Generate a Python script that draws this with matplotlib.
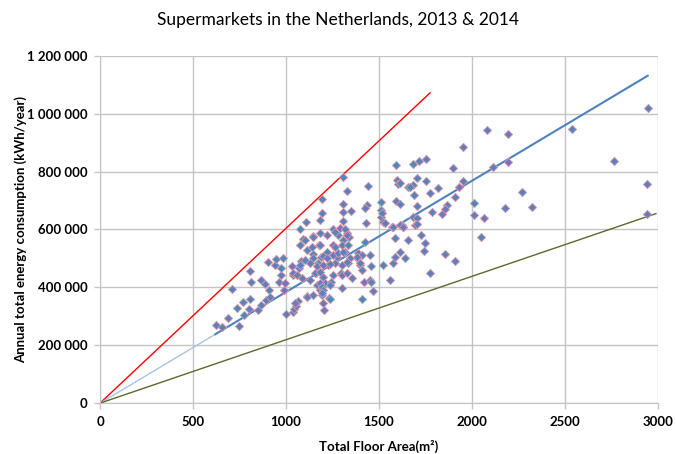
import matplotlib
matplotlib.use("Agg")
import matplotlib.pyplot as plt
from matplotlib.ticker import FuncFormatter, MultipleLocator

title = "Supermarkets in the Netherlands, 2013 & 2014"
xlabel = "Total Floor Area(m²)"
ylabel = "Annual total energy consumption (kWh/year)"

area = [
    624, 654, 690, 711, 737, 747, 769, 774, 801, 805, 808, 810, 848, 864, 866, 887, 891, 905, 909, 914,
    943, 946, 961, 971, 975, 989, 998, 1032, 1036, 1039, 1043, 1052, 1066, 1071, 1075, 1081, 1104, 1093,
    1111, 1113, 1129, 1143, 1147, 1161, 1165, 1170, 1179, 1183, 1190, 1195, 1200, 1204, 1210, 1219, 1222,
    1228, 1233, 1240, 1254, 1263, 1272, 1281, 1294, 1299, 1308, 1317, 1326, 1335, 1339, 1380, 1389, 1401,
    1407, 1410, 1410, 1419, 1425, 1452, 1455, 1466, 1520, 1559, 1577, 1586,
    1308, 1326, 1195, 1308, 1439, 1434, 1426, 1308, 1195, 1183, 1308, 1109, 1075, 1430, 1511, 1511, 1591,
    1595, 1604, 1591, 1613, 1658, 1511, 1523, 1568, 1622, 1254, 1183,
    2948, 2084, 2195, 2537, 1955, 1681, 1717, 1753, 1899, 2114, 2195, 2767, 1613, 1684, 1703, 1753, 1690,
    1774, 1816, 1932, 1955, 1910, 1703, 1869, 2012, 2176, 2272, 2324, 2944, 2944, 1783, 1837, 1858, 2012,
    2066, 2047, 1627, 1681, 1692, 1729, 1659, 1747, 1745, 1613, 1640, 1857, 1908, 1776,
    1138, 1263, 1299, 1335, 1147, 1200, 1219, 1254, 1281, 1308, 1344, 1380, 1075, 1129, 1165, 1200, 1237,
    1299, 1326, 1398, 1452, 995, 1039, 1057, 1084, 1156, 1183, 1254, 1299, 1326, 1353, 1183, 1192, 1200,
    1192, 1237, 1460, 1111, 1147, 1237, 1200, 1048,
    1514, 1532, 1577, 1613, 1631, 1703, 1703, 1586, 1667, 1348, 1147, 1102, 1183, 1265, 1290, 1320, 1330,
    985,
]
energy = [
    270800, 263900, 292900, 395300, 328500, 265200, 349300, 305400, 326100, 358600, 457500, 417400, 321600,
    424300, 337900, 411500, 356200, 488600, 390800, 367600, 477200, 496900, 419500, 442600, 465800, 390800,
    307800, 474800, 443700, 314700, 324000, 335400, 353700, 465800, 546400, 491000, 495500, 567100, 530100,
    370000, 425300, 576400, 515200, 448500, 408000, 483100, 545300, 390800, 505900, 373500, 436700, 321600,
    413900, 580900, 523200, 477200, 362000, 419500, 546400, 483100, 505900, 580900, 448500, 396500, 563700,
    523200, 586700, 483100, 575000, 500400, 517700, 477200, 511800, 459900, 358600, 417400, 557800, 425300,
    473700, 387300, 477200, 425300, 483100, 505900,
    782600, 734200, 706500, 688200, 751500, 684700, 673200, 660500, 656000, 632800, 630400, 625900, 602800,
    622400, 694000, 667400, 823000, 771100, 756200, 698500, 688200, 748000, 644200, 627000, 609700, 615500,
    600500, 586700,
    1021200, 944000, 931300, 947500, 885200, 826500, 835800, 842700, 812600, 817200, 834500, 835800, 759700,
    752600, 776900, 768700, 720300, 725100, 742400, 746900, 768700, 711300, 681200, 683700, 690500, 674300,
    728600, 677800, 758500, 652500, 659400, 653600, 669800, 650100, 639700, 573000, 609700, 644200, 616600,
    579900, 563700, 552200, 526700, 521000, 500400, 515200, 489900, 450600,
    540500, 540500, 546000, 546000, 500000, 508000, 500000, 512000, 518000, 523000, 500000, 506000, 477000,
    483000, 474000, 477000, 481000, 477000, 489000, 483000, 512000, 414000, 448000, 443000, 431000, 448000,
    454000, 443000, 443000, 451000, 431000, 414000, 402000, 391000, 379000, 408000, 420000, 368000, 373000,
    359000, 345000, 345000,
    656000, 623000, 607000, 615000, 607000, 640000, 620000, 569000, 748000, 665000, 573000, 564000, 548000,
    590000, 605000, 600000, 580000, 500000,
]

# reference lines (slope in kWh per m2, x-range)
red_slope, red_x_end = 604, 1775
trend_slope, trend_x_start, trend_x_end = 384, 620, 2946
olive_slope, olive_x_end = 219, 2990

fig = plt.figure(figsize=(6.76, 4.54), dpi=100)
ax = fig.add_axes([0.148, 0.112, 0.825, 0.765])

font = "Lato"
grid_c = "#c4c4c4"

ax.plot([0, red_x_end], [0, red_slope * red_x_end], color="#ff0000", lw=1.0, zorder=2)
ax.plot([0, trend_x_start], [0, trend_slope * trend_x_start], color="#a9c3e4", lw=1.0, zorder=2)
ax.plot([trend_x_start, trend_x_end], [trend_slope * trend_x_start, trend_slope * trend_x_end],
        color="#4f81bd", lw=1.5, zorder=2)
ax.plot([0, olive_x_end], [0, olive_slope * olive_x_end], color="#5a6a2c", lw=1.0, zorder=2)

ax.scatter(area, energy, marker="D", s=18, facecolor="#5f80bc", edgecolor="#d99aa5",
           linewidths=0.6, zorder=3)

ax.set_xlim(0, 3000)
ax.set_ylim(0, 1200000)
ax.xaxis.set_major_locator(MultipleLocator(500))
ax.yaxis.set_major_locator(MultipleLocator(200000))
ax.yaxis.set_major_formatter(FuncFormatter(lambda v, p: f"{int(v):,}".replace(",", " ")))
ax.grid(True, color=grid_c, lw=1.0, zorder=0)
ax.set_axisbelow(True)
for s in ["top", "right"]:
    ax.spines[s].set_visible(False)
for s in ["left", "bottom"]:
    ax.spines[s].set_color(grid_c)
ax.tick_params(axis="both", colors=grid_c, length=4, width=1, direction="out", pad=5)
for lab in ax.get_xticklabels() + ax.get_yticklabels():
    lab.set_fontfamily(font)
    lab.set_fontweight("bold")
    lab.set_fontsize(9.5)
    lab.set_color("black")

ax.set_xlabel(xlabel, fontfamily=[font, "DejaVu Sans"], fontweight="bold", fontsize=9.5, va="center")
ax.set_ylabel(ylabel, fontfamily=font, fontweight="bold", fontsize=9.5, va="center")
ax.xaxis.set_label_coords(0.5, -0.124)
ax.yaxis.set_label_coords(-0.143, 0.5)
fig.text(0.5, 0.955, title, ha="center", va="center", fontfamily=font, fontsize=12.5)

fig.savefig("out.png", dpi=100)
